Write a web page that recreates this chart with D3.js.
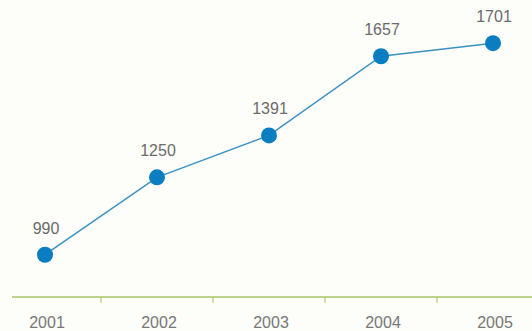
<!DOCTYPE html>
<html>
<head>
<meta charset="utf-8">
<script src="https://cdn.jsdelivr.net/npm/d3@7"></script>
<style>
  body { margin: 0; background: #fdfdf9; }
  text { font-family: "Liberation Sans", Arial, sans-serif; }
</style>
</head>
<body>
<div id="chart"></div>
<script>
var years = ["2001", "2002", "2003", "2004", "2005"];
var values = [990, 1250, 1391, 1657, 1701];

var w = 532;
var h = 331;
var axisY = 297;

var xScale = d3.scaleBand()
    .domain(years)
    .range([-11, 549]);

var yScale = d3.scaleLinear()
    .domain([848, 1846])
    .range([297, 0]);

var svg = d3.select("#chart")
    .append("svg")
    .attr("width", w)
    .attr("height", h);

svg.append("rect")
    .attr("width", w)
    .attr("height", h)
    .attr("fill", "#fdfdf9");

// axis line + separators between years
svg.append("line")
    .attr("x1", 12).attr("x2", w)
    .attr("y1", axisY).attr("y2", axisY)
    .attr("stroke", "#a9c763")
    .attr("stroke-width", 1.5);

svg.selectAll(".sep")
    .data(years.slice(1))
    .enter()
    .append("line")
    .attr("class", "sep")
    .attr("x1", function(d) { return xScale(d); })
    .attr("x2", function(d) { return xScale(d); })
    .attr("y1", axisY)
    .attr("y2", axisY + 6)
    .attr("stroke", "#a9c763")
    .attr("stroke-width", 1);

svg.selectAll(".year")
    .data(years)
    .enter()
    .append("text")
    .attr("class", "year")
    .attr("x", function(d) { return xScale(d) + xScale.bandwidth() / 2 + 2; })
    .attr("y", 328)
    .attr("text-anchor", "middle")
    .attr("fill", "#777")
    .style("font-size", "16px")
    .text(function(d) { return d; });

var points = years.map(function(y, i) { return [y, values[i]]; });

var line = d3.line()
    .x(function(d) { return xScale(d[0]) + xScale.bandwidth() / 2; })
    .y(function(d) { return yScale(d[1]); });

svg.append("path")
    .datum(points)
    .attr("d", line)
    .attr("fill", "none")
    .attr("stroke", "#3a92c4")
    .attr("stroke-width", 1.5);

svg.selectAll("circle")
    .data(points)
    .enter()
    .append("circle")
    .attr("cx", function(d) { return xScale(d[0]) + xScale.bandwidth() / 2; })
    .attr("cy", function(d) { return yScale(d[1]); })
    .attr("r", 8)
    .attr("fill", "#0b7dc1");

svg.selectAll(".val")
    .data(points)
    .enter()
    .append("text")
    .attr("class", "val")
    .attr("x", function(d) { return xScale(d[0]) + xScale.bandwidth() / 2 + 1; })
    .attr("y", function(d) { return yScale(d[1]) - 21; })
    .attr("text-anchor", "middle")
    .attr("fill", "#6b6b6b")
    .style("font-size", "16px")
    .text(function(d) { return d[1]; });
</script>
</body>
</html>
